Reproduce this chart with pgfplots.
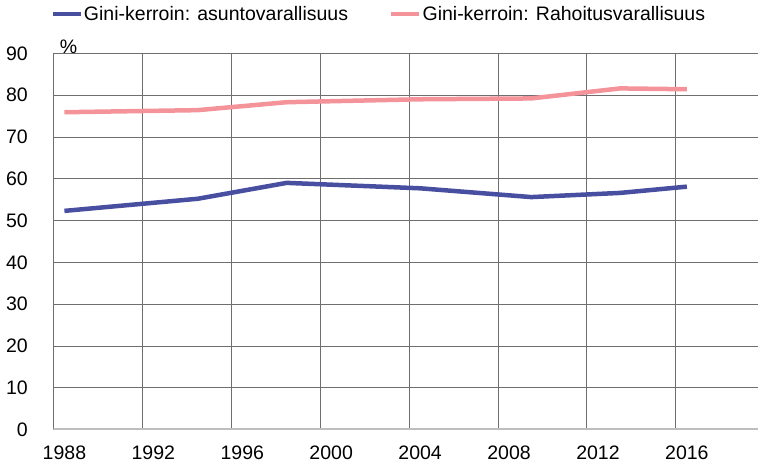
\documentclass[border=0pt]{standalone}
\usepackage{fontspec}
\setmainfont{Liberation Sans}
\usepackage{pgfplots}
\pgfplotsset{compat=1.18}
\definecolor{blueline}{RGB}{72,79,160}
\definecolor{pinkline}{RGB}{244,148,154}
\definecolor{gridgray}{RGB}{110,110,110}
\definecolor{basegray}{RGB}{190,190,190}
\begin{document}
\begin{tikzpicture}[font=\fontsize{19.5}{23}\selectfont]
\useasboundingbox (0,0) rectangle (758pt,468pt);
\begin{axis}[
  name=ax,
  at={(53.3pt,38.5pt)}, anchor=south west,
  scale only axis, width=704.7pt, height=376.2pt,
  xmin=1987.5, xmax=2019.2, ymin=0, ymax=90,
  xtick={1988,1992,...,2016},
  minor xtick={1991.5,1995.5,...,2015.5},
  ytick={0,10,...,90},
  xminorgrids, ymajorgrids,
  major tick length=0pt, minor tick length=0pt,
  grid style={gridgray, line width=0.7pt},
  minor grid style={gridgray, line width=0.7pt},
  axis line style={gridgray, line width=0.7pt},
  /pgf/number format/assume math mode=true,
  x tick label style={/pgf/number format/1000 sep={}, yshift=-13pt},
  y tick label style={xshift=-22pt},
  legend columns=2,
  legend style={at={(0,1)}, anchor=west, xshift=-3pt, yshift=39.3pt,
    draw=none, fill=none, inner sep=0pt,
    /tikz/every even column/.append style={column sep=40pt},
    nodes={inner sep=1pt, anchor=west}},
  legend image code/.code={\draw[#1] (0pt,0pt) -- (28pt,0pt);},
]
\addplot[blueline, line width=4.5pt, line join=round] coordinates {
  (1988,52.3) (1994,55.2) (1998,59.0) (2004,57.7) (2009,55.6) (2013,56.6) (2016,58.1)};
\addlegendentry{Gini-kerroin: asuntovarallisuus}
\addplot[pinkline, line width=4.5pt, line join=round] coordinates {
  (1988,75.9) (1994,76.4) (1998,78.3) (2004,79.0) (2009,79.2) (2013,81.6) (2016,81.4)};
\addlegendentry{Gini-kerroin: Rahoitusvarallisuus}
\draw[basegray, line width=2pt] (rel axis cs:0,0) -- (rel axis cs:1,0);
\end{axis}
\node[anchor=south west, xshift=3pt, yshift=-3.5pt] at (ax.north west) {\%};
\end{tikzpicture}
\end{document}
